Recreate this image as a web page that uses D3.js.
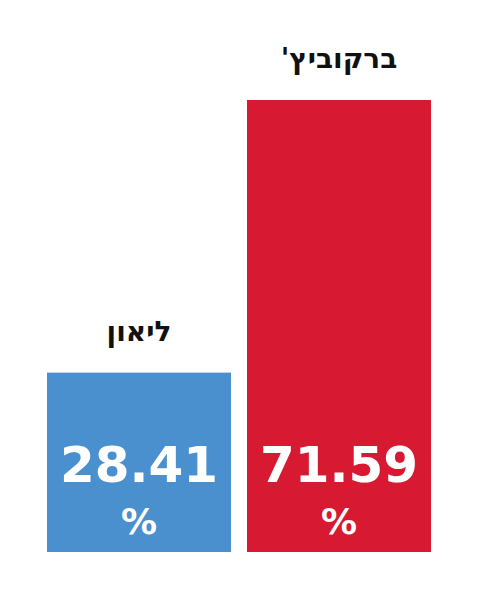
<!DOCTYPE html>
<html><head><meta charset="utf-8">
<script src="https://cdn.jsdelivr.net/npm/d3@7"></script>
<style>body{margin:0;background:#fff}</style>
</head><body><div id="plot"></div>
<script>
var names = ["ליאון", "ברקוביץ'"];
var values = [28.41, 71.59];
var colours = ["#4a90cf", "#d71a32"];

var svg = d3.select("#plot").append("svg").attr("width", 490).attr("height", 592);

var xScale = d3.scaleBand().domain(d3.range(values.length)).range([47, 431]).paddingInner(0.08).paddingOuter(0);
var yScale = d3.scaleLinear().domain([0, d3.max(values)]).range([552, 100]);

var g = svg.selectAll("g.bar").data(values).enter().append("g");

g.append("rect")
	.attr("x", function (d, i) { return xScale(i); })
	.attr("y", function (d) { return yScale(d); })
	.attr("width", xScale.bandwidth())
	.attr("height", function (d) { return yScale(0) - yScale(d); })
	.attr("fill", function (d, i) { return colours[i]; });

//name above bar
g.append("text")
	.attr("x", function (d, i) { return xScale(i) + xScale.bandwidth() / 2; })
	.attr("y", function (d) { return yScale(d) - 32; })
	.attr("text-anchor", "middle")
	.attr("direction", "rtl")
	.attr("font-family", "'DejaVu Sans', sans-serif").attr("font-weight", "bold").attr("font-size", 28)
	.attr("fill", "#111")
	.text(function (d, i) { return names[i]; });

//value inside bar
g.append("text")
	.attr("x", function (d, i) { return xScale(i) + xScale.bandwidth() / 2; })
	.attr("y", 482)
	.attr("text-anchor", "middle")
	.attr("font-family", "'DejaVu Sans', sans-serif").attr("font-weight", "bold").attr("font-size", 50)
	.attr("fill", "#fff")
	.text(function (d) { return d.toFixed(2); });

g.append("text")
	.attr("x", function (d, i) { return xScale(i) + xScale.bandwidth() / 2; })
	.attr("y", 534)
	.attr("text-anchor", "middle")
	.attr("font-family", "'DejaVu Sans', sans-serif").attr("font-weight", "bold").attr("font-size", 36)
	.attr("fill", "#fff")
	.text("%");
</script></body></html>
